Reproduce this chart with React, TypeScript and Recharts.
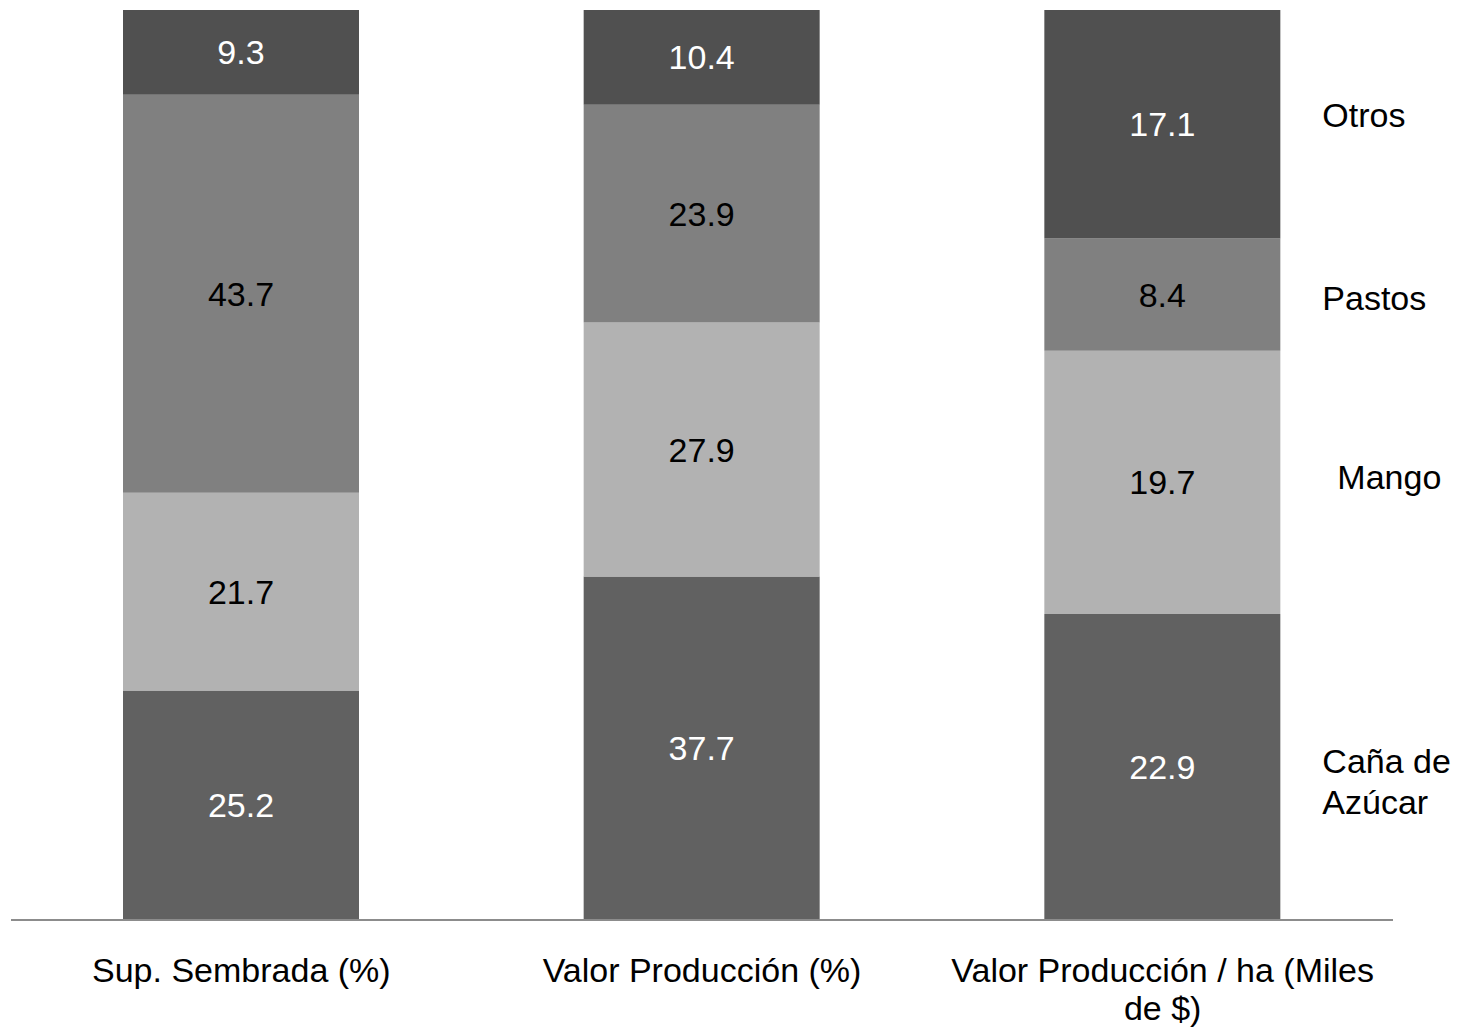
import { Bar, BarChart, LabelList, XAxis, YAxis } from 'recharts';

const categories = ['Sup. Sembrada (%)', 'Valor Producción (%)', 'Valor Producción / ha (Miles de $)'];
const cana = [25.2, 37.7, 22.9];
const mango = [21.7, 27.9, 19.7];
const pastos = [43.7, 23.9, 8.4];
const otros = [9.3, 10.4, 17.1];

const seriesNames = { cana: 'Caña de Azúcar', mango: 'Mango', pastos: 'Pastos', otros: 'Otros' };

const FONT = '"Liberation Sans", Arial, Helvetica, sans-serif';

const data = categories.map((name, i) => ({
  name,
  cana: cana[i],
  mango: mango[i],
  pastos: pastos[i],
  otros: otros[i],
}));

// series drawn bottom -> top
const SERIES = [
  { key: 'cana', fill: '#616161', text: '#ffffff', lines: ['Caña de', 'Azúcar'], dx: 42, dy: 15 },
  { key: 'mango', fill: '#b2b2b2', text: '#000000', lines: ['Mango'], dx: 57, dy: -5 },
  { key: 'pastos', fill: '#808080', text: '#000000', lines: ['Pastos'], dx: 42, dy: 3 },
  { key: 'otros', fill: '#505050', text: '#ffffff', lines: ['Otros'], dx: 42, dy: -9 },
] as const;

let ctx: CanvasRenderingContext2D | null = null;
function measure(s: string) {
  if (!ctx) {
    ctx = document.createElement('canvas').getContext('2d');
    if (ctx) ctx.font = `34px ${FONT}`;
  }
  return ctx ? ctx.measureText(s).width : s.length * 17;
}

// greedy word wrap, like the category box in the original
function wrap(label: string, maxW: number) {
  const words = label.split(' ');
  const lines: string[] = [];
  let cur = '';
  for (const w of words) {
    const next = cur ? `${cur} ${w}` : w;
    if (cur && measure(next) > maxW) {
      lines.push(cur);
      cur = w;
    } else {
      cur = next;
    }
  }
  if (cur) lines.push(cur);
  return lines;
}

function CategoryTick(props: any) {
  const { x, y, payload } = props;
  const lines = wrap(String(payload.value), 440);
  return (
    <text x={x} y={y + 54} textAnchor="middle" fontSize={34} fontFamily={FONT} fill="#000">
      {lines.map((l, i) => (
        <tspan key={i} x={x} dy={i === 0 ? 0 : 38}>
          {l}
        </tspan>
      ))}
    </text>
  );
}

function sideLabel(lines: readonly string[], dx: number, dy: number) {
  return (props: any) => {
    const { x, y, width, height, index } = props;
    if (index !== categories.length - 1) return null;
    const cx = Number(x) + Number(width) + dx;
    const cy = Number(y) + Number(height) / 2 + dy;
    const lh = 41;
    const y0 = cy - ((lines.length - 1) * lh) / 2;
    return (
      <text x={cx} fontSize={34} fontFamily={FONT} fill="#000" dominantBaseline="central">
        {lines.map((l, i) => (
          <tspan key={i} x={cx} y={y0 + i * lh}>
            {l}
          </tspan>
        ))}
      </text>
    );
  };
}

export default function App() {
  return (
    <div style={{ position: 'absolute', left: 0, top: 0, width: 1457, height: 1029, background: '#fff' }}>
      <BarChart
        width={1457}
        height={1029}
        data={data}
        stackOffset="expand"
        barSize={236}
        margin={{ top: 10, right: 64, left: 11, bottom: 9 }}
      >
        <XAxis
          dataKey="name"
          height={100}
          tickLine={false}
          axisLine={{ stroke: '#8c8c8c', strokeWidth: 2 }}
          tick={<CategoryTick />}
          interval={0}
        />
        <YAxis hide domain={[0, 1]} />
        {SERIES.map((s) => (
          <Bar
            key={s.key}
            dataKey={s.key}
            name={seriesNames[s.key]}
            stackId="a"
            fill={s.fill}
            isAnimationActive={false}
          >
            <LabelList
              dataKey={s.key}
              position="center"
              fill={s.text}
              fontSize={34}
              fontFamily={FONT}
            />
            <LabelList dataKey={s.key} content={sideLabel(s.lines, s.dx, s.dy)} />
          </Bar>
        ))}
      </BarChart>
    </div>
  );
}
